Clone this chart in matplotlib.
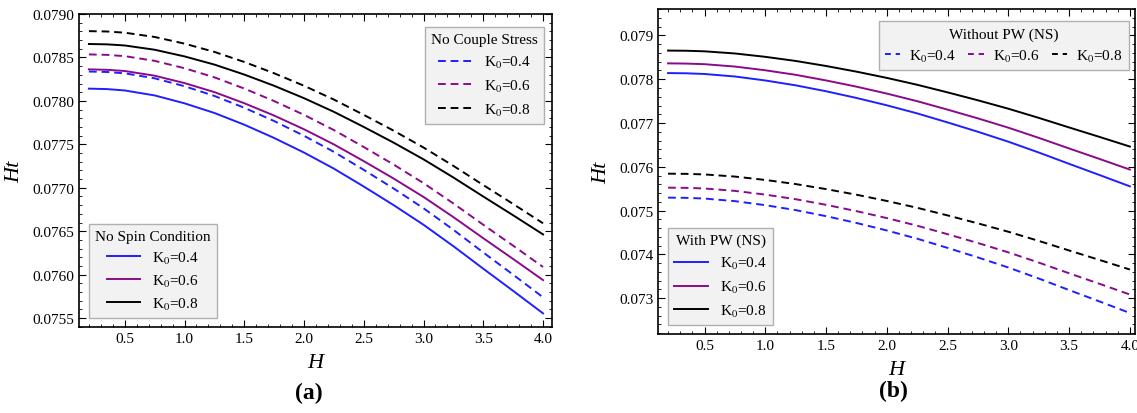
import matplotlib
matplotlib.use("Agg")
import matplotlib.pyplot as plt
from matplotlib.ticker import MultipleLocator, FormatStrFormatter

plt.rcParams['font.family'] = ['Liberation Serif', 'DejaVu Serif']
plt.rcParams['mathtext.fontset'] = 'stix'

H = [0.2, 0.35, 0.5, 0.75, 1.0, 1.25, 1.5, 1.75, 2.0, 2.25, 2.5, 2.75, 3.0, 3.25, 3.5, 3.75, 4.0]
k_labels = ['K$_0$=0.4', 'K$_0$=0.6', 'K$_0$=0.8']

# no spin condition (same curves as "with PW (NS)")
ns_k04 = [0.078141, 0.078136, 0.078120, 0.078063, 0.077972, 0.077861, 0.077726, 0.077573, 0.077405,
          0.077220, 0.077014, 0.076800, 0.076574, 0.076327, 0.076068, 0.075813, 0.075554]
ns_k06 = [0.078363, 0.078358, 0.078344, 0.078290, 0.078205, 0.078101, 0.077973, 0.077831, 0.077673,
          0.077499, 0.077306, 0.077106, 0.076894, 0.076662, 0.076419, 0.076180, 0.075937]
ns_k08 = [0.078655, 0.078651, 0.078638, 0.078589, 0.078512, 0.078418, 0.078303, 0.078174, 0.078031,
          0.077874, 0.077700, 0.077519, 0.077327, 0.077118, 0.076899, 0.076683, 0.076463]

# no couple stress
ncs_k04 = [0.078338, 0.078333, 0.078317, 0.078260, 0.078169, 0.078057, 0.077921, 0.077768, 0.077598,
           0.077413, 0.077206, 0.076991, 0.076764, 0.076516, 0.076255, 0.075999, 0.075739]
ncs_k06 = [0.078535, 0.078530, 0.078515, 0.078461, 0.078376, 0.078271, 0.078142, 0.077998, 0.077839,
           0.077664, 0.077469, 0.077267, 0.077053, 0.076819, 0.076574, 0.076333, 0.076088]
ncs_k08 = [0.078803, 0.078799, 0.078785, 0.078736, 0.078659, 0.078564, 0.078448, 0.078318, 0.078174,
           0.078015, 0.077839, 0.077657, 0.077463, 0.077252, 0.077031, 0.076813, 0.076591]

# without PW (NS)
npw_k04 = [0.075296, 0.075291, 0.075275, 0.075216, 0.075124, 0.075011, 0.074873, 0.074718, 0.074546,
           0.074358, 0.074148, 0.073930, 0.073700, 0.073449, 0.073185, 0.072925, 0.072661]
npw_k06 = [0.075524, 0.075519, 0.075505, 0.075450, 0.075365, 0.075260, 0.075132, 0.074988, 0.074829,
           0.074655, 0.074461, 0.074259, 0.074046, 0.073813, 0.073568, 0.073328, 0.073083]
npw_k08 = [0.075843, 0.075839, 0.075826, 0.075777, 0.075700, 0.075606, 0.075491, 0.075363, 0.075220,
           0.075064, 0.074890, 0.074708, 0.074517, 0.074308, 0.074089, 0.073873, 0.073654]

colors = ['#1f1fff', '#8b0a8b', 'black']
dash = (0, (4, 2.5))

fig = plt.figure(figsize=(11.37, 4.14), dpi=100)
ax1 = fig.add_axes([0.0695, 0.2077, 0.416, 0.756])
ax2 = fig.add_axes([0.579, 0.191, 0.419, 0.785])


def style(ax):
    ax.tick_params(which='both', direction='in', top=True, right=True, labelsize=11)
    ax.tick_params(which='major', length=5, width=0.8)
    ax.tick_params(which='minor', length=2.5, width=0.6)
    ax.xaxis.set_major_locator(MultipleLocator(0.5))
    ax.xaxis.set_minor_locator(MultipleLocator(0.1))
    ax.xaxis.set_major_formatter(FormatStrFormatter('%.1f'))
    for s in ax.spines.values():
        s.set_linewidth(1.2)
    ax.set_xlabel('H', fontsize=16, style='italic', labelpad=6)
    ax.set_ylabel('Ht', fontsize=16, style='italic', labelpad=6)


def box_legend(ax, handles, title, loc, anchor, ncol=1, hl=2.2, cs=0.6, sp=0.45, tp=0.8):
    leg = ax.legend(handles=handles, title=title, loc=loc, bbox_to_anchor=anchor,
                    borderaxespad=0, fontsize=11, title_fontsize=11, ncol=ncol,
                    handlelength=hl, handletextpad=tp, columnspacing=cs,
                    labelspacing=sp, fancybox=False, framealpha=1,
                    facecolor='#f2f2f2', edgecolor='#b0b0b0')
    leg.get_frame().set_linewidth(1.0)
    return leg


# (a)
solid_a = [ax1.plot(H, y, color=c, lw=1.4, label=l)[0]
           for y, c, l in zip([ns_k04, ns_k06, ns_k08], colors, k_labels)]
dash_a = [ax1.plot(H, y, color=c, lw=1.4, ls=dash, label=l)[0]
          for y, c, l in zip([ncs_k04, ncs_k06, ncs_k08], colors, k_labels)]
style(ax1)
ax1.set_xlim(0.117, 4.075)
ax1.set_ylim(0.075397, 0.0790)
ax1.yaxis.set_major_locator(MultipleLocator(0.0005))
ax1.yaxis.set_minor_locator(MultipleLocator(0.0001))
ax1.yaxis.set_major_formatter(FormatStrFormatter('%.4f'))
l1 = box_legend(ax1, dash_a, 'No Couple Stress', 'upper right', (0.983, 0.958), sp=0.5)
ax1.add_artist(l1)
box_legend(ax1, solid_a, 'No Spin Condition', 'lower left', (0.021, 0.029))

# (b)
solid_b = [ax2.plot(H, y, color=c, lw=1.4, label=l)[0]
           for y, c, l in zip([ns_k04, ns_k06, ns_k08], colors, k_labels)]
dash_b = [ax2.plot(H, y, color=c, lw=1.4, ls=dash, label=l)[0]
          for y, c, l in zip([npw_k04, npw_k06, npw_k08], colors, k_labels)]
style(ax2)
ax2.set_xlim(0.12, 4.04)
ax2.set_ylim(0.072183, 0.079606)
ax2.yaxis.set_major_locator(MultipleLocator(0.001))
ax2.yaxis.set_minor_locator(MultipleLocator(0.0002))
ax2.yaxis.set_major_formatter(FormatStrFormatter('%.3f'))
l2 = box_legend(ax2, dash_b, 'Without PW (NS)', 'upper right', (0.987, 0.963),
                ncol=3, hl=1.0, cs=0.8, tp=0.6)
for h in l2.legend_handles:
    h.set_linestyle((0, (3, 2.5)))
ax2.add_artist(l2)
box_legend(ax2, solid_b, 'With PW (NS)', 'lower left', (0.021, 0.028), sp=0.5)

fig.text(0.272, 0.035, '(a)', fontsize=17, fontweight='bold', ha='center')
fig.text(0.786, 0.042, '(b)', fontsize=17, fontweight='bold', ha='center')

fig.savefig('out.png', dpi=100)
